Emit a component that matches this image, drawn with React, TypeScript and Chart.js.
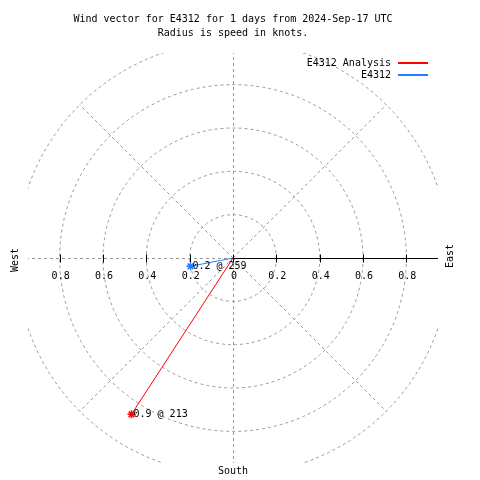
import React, { useEffect, useRef } from "react";
import { Chart, registerables } from "chart.js";

Chart.register(...registerables);

const TITLE_LINES = [
  "Wind vector for E4312 for 1 days from 2024-Sep-17 UTC",
  "Radius is speed in knots.",
];
const SERIES_NAMES = ["E4312 Analysis", "E4312"];
const SPEEDS = [0.86, 0.2];
const DIRECTIONS = [213, 259];
const RING_VALUES = [0.2, 0.4, 0.6, 0.8, 1.0];
const SPOKE_ANGLES = [0, 45, 90, 135, 180, 225, 270, 315];
const TICK_VALUES = [-0.8, -0.6, -0.4, -0.2, 0, 0.2, 0.4, 0.6, 0.8];
const TICK_LABELS = ["0.8", "0.6", "0.4", "0.2", "0", "0.2", "0.4", "0.6", "0.8"];
const AXIS_NAMES = ["West", "East", "South"];
const AXIS_MAX = 0.946;

const COLORS = ["#ff0000", "#1f7fff"];
const GRID = "#999999";
const FONT = "10px 'DejaVu Sans Mono', monospace";

const rad = (d: number) => (d * Math.PI) / 180;

const polarPlugin = {
  id: "polarDecor",
  beforeDatasetsDraw(chart: any) {
    const { ctx, chartArea } = chart;
    const xs = chart.scales.x;
    const ys = chart.scales.y;
    const cx = xs.getPixelForValue(0);
    const cy = ys.getPixelForValue(0);
    const unit = xs.getPixelForValue(1) - cx;
    ctx.save();
    ctx.beginPath();
    ctx.rect(chartArea.left, chartArea.top, chartArea.right - chartArea.left, chartArea.bottom - chartArea.top);
    ctx.clip();
    ctx.strokeStyle = GRID;
    ctx.lineWidth = 1;
    ctx.setLineDash([3, 3]);
    RING_VALUES.forEach((r) => {
      ctx.beginPath();
      ctx.arc(cx, cy, r * unit, 0, Math.PI * 2);
      ctx.stroke();
    });
    const maxR = RING_VALUES[RING_VALUES.length - 1];
    SPOKE_ANGLES.forEach((a) => {
      const ex = xs.getPixelForValue(maxR * Math.sin(rad(a)));
      const ey = ys.getPixelForValue(maxR * Math.cos(rad(a)));
      ctx.beginPath();
      const ox = a % 180 === 0 ? Math.round(cx) + 0.5 : cx;
      const oy = a % 180 === 90 ? Math.round(cy) + 0.5 : cy;
      const exx = a % 180 === 0 ? ox : ex;
      const eyy = a % 180 === 90 ? oy : ey;
      ctx.moveTo(ox, oy);
      ctx.lineTo(exx, eyy);
      ctx.stroke();
    });
    ctx.setLineDash([]);
    ctx.strokeStyle = "#000";
    const yAxis = Math.round(cy) + 0.5;
    ctx.beginPath();
    ctx.moveTo(cx, yAxis);
    ctx.lineTo(chartArea.right, yAxis);
    ctx.stroke();
    TICK_VALUES.forEach((v) => {
      const tx = Math.round(xs.getPixelForValue(v)) + 0.5;
      ctx.beginPath();
      ctx.moveTo(tx, yAxis - 4);
      ctx.lineTo(tx, yAxis + 4);
      ctx.stroke();
    });
    ctx.restore();

    ctx.save();
    ctx.font = FONT;
    ctx.fillStyle = "#000";
    ctx.textAlign = "center";
    ctx.textBaseline = "middle";
    TICK_VALUES.forEach((v, i) => {
      ctx.fillText(TICK_LABELS[i], xs.getPixelForValue(v) + 1, cy + 18);
    });
    ctx.restore();
  },
  afterDatasetsDraw(chart: any) {
    const { ctx } = chart;
    const xs = chart.scales.x;
    const ys = chart.scales.y;
    ctx.save();
    ctx.font = FONT;
    ctx.fillStyle = "#000";
    ctx.textAlign = "left";
    ctx.textBaseline = "middle";
    SPEEDS.forEach((s, i) => {
      const px = xs.getPixelForValue(s * Math.sin(rad(DIRECTIONS[i])));
      const py = ys.getPixelForValue(s * Math.cos(rad(DIRECTIONS[i])));
      ctx.fillText(`${s.toFixed(1)} @ ${DIRECTIONS[i]}`, px + 2, py);
    });
    ctx.restore();
  },
  afterDraw(chart: any) {
    const { ctx, chartArea } = chart;
    const xs = chart.scales.x;
    const ys = chart.scales.y;
    const cx = xs.getPixelForValue(0);
    const cy = ys.getPixelForValue(0);
    ctx.save();
    ctx.font = FONT;
    ctx.fillStyle = "#000";
    ctx.textAlign = "center";
    ctx.textBaseline = "middle";
    TITLE_LINES.forEach((t, i) => ctx.fillText(t, cx, 19 + i * 14));

    // legend
    SERIES_NAMES.forEach((n, i) => {
      const y = 63 + i * 12;
      ctx.textAlign = "right";
      ctx.fillStyle = "#000000";
      ctx.fillText(n, 391, y);
    });
    SERIES_NAMES.forEach((n, i) => {
      const y = 63 + i * 12;
      ctx.fillStyle = i === 0 ? "rgb(255,0,0)" : "rgb(31,127,255)";
      ctx.fillRect(398, y - 1, 30, 2);
    });

    // axis names
    ctx.fillStyle = "#000";
    ctx.textAlign = "center";
    ctx.save();
    ctx.translate(15, cy + 2);
    ctx.rotate(-Math.PI / 2);
    ctx.fillText(AXIS_NAMES[0], 0, 0);
    ctx.restore();
    ctx.save();
    ctx.translate(chartArea.right + 12, cy - 2);
    ctx.rotate(-Math.PI / 2);
    ctx.fillText(AXIS_NAMES[1], 0, 0);
    ctx.restore();
    ctx.fillText(AXIS_NAMES[2], cx, 471);
    ctx.restore();
  },
};

export default function App() {
  const ref = useRef<HTMLCanvasElement | null>(null);
  useEffect(() => {
    if (!ref.current) return;
    const datasets = SERIES_NAMES.map((name, i) => {
      const a = rad(DIRECTIONS[i]);
      return {
        label: name,
        data: [
          { x: 0, y: 0 },
          { x: SPEEDS[i] * Math.sin(a), y: SPEEDS[i] * Math.cos(a) },
        ],
        showLine: true,
        borderColor: COLORS[i],
        backgroundColor: COLORS[i],
        borderWidth: 1,
        pointStyle: "star" as const,
        pointRadius: [0, 4],
        pointBorderWidth: 1.5,
        pointBorderColor: COLORS[i],
      };
    });
    const chart = new Chart(ref.current, {
      type: "scatter",
      data: { datasets },
      options: {
        responsive: false,
        animation: false,
        layout: { padding: { left: 28, top: 53, right: 42, bottom: 17 } },
        scales: {
          x: { type: "linear", min: -AXIS_MAX, max: AXIS_MAX, display: false },
          y: { type: "linear", min: -AXIS_MAX, max: AXIS_MAX, display: false },
        },
        plugins: {
          legend: { display: false },
          title: { display: false },
          tooltip: { enabled: false },
        },
      },
      plugins: [polarPlugin],
    });
    return () => chart.destroy();
  }, []);
  return (
    <div style={{ position: "fixed", left: 0, top: 0, width: 480, height: 480, background: "#fff" }}>
      <canvas ref={ref} width={480} height={480} />
    </div>
  );
}
